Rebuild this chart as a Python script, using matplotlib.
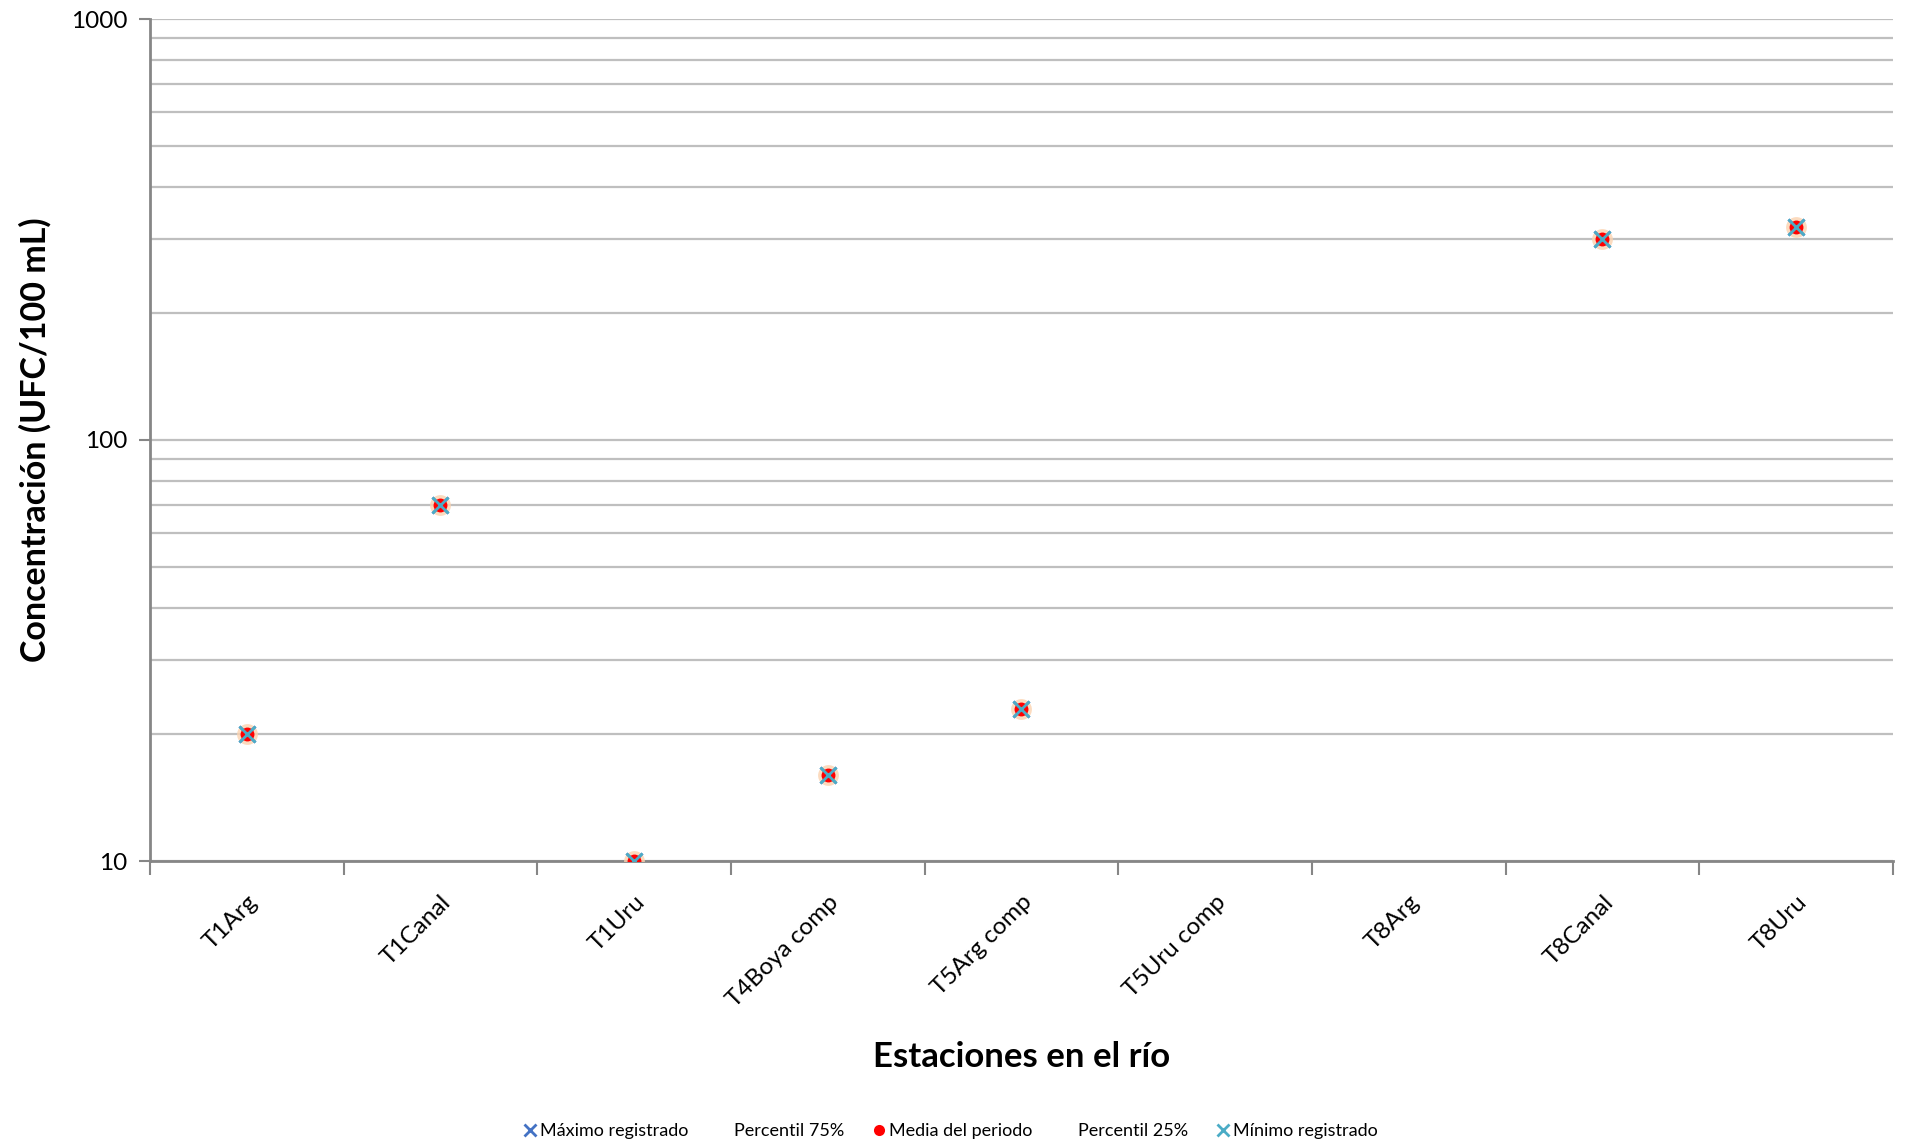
import numpy as np
import matplotlib
matplotlib.use("Agg")
import matplotlib.pyplot as plt
from matplotlib.ticker import LogLocator, NullFormatter, FixedLocator

plt.rcParams['font.family'] = ['Lato', 'DejaVu Sans']

categories = ["T1Arg", "T1Canal", "T1Uru", "T4Boya comp", "T5Arg comp",
              "T5Uru comp", "T8Arg", "T8Canal", "T8Uru"]
nan = np.nan
maximo = [20, 70, 10, 16, 23, nan, nan, 300, 320]
p75 = [20, 70, 10, 16, 23, nan, nan, 300, 320]
media = [20, 70, 10, 16, 23, nan, nan, 300, 320]
p25 = [20, 70, 10, 16, 23, nan, nan, 300, 320]
minimo = [20, 70, 10, 16, 23, nan, nan, 300, 320]

W, H = 1906, 1145
fig = plt.figure(figsize=(W/100, H/100), dpi=100)
ax = fig.add_axes([150/W, 1-861/H, (1893-150)/W, (861-19)/H])

x = np.arange(len(categories))
grid_c = '#bfbfbf'
axis_c = '#868686'

# soft glow under mean marker
ax.plot(x, media, linestyle='none', marker='o', markersize=15,
        color='#fbd3b0', alpha=0.8, mew=0, zorder=3)
ax.plot(x, maximo, linestyle='none', marker='x', markersize=11, mew=2,
        color='#4472C4', zorder=4, label='Máximo registrado')
ax.plot(x, p75, linestyle='none', marker='none', label='Percentil 75%')
ax.plot(x, media, linestyle='none', marker='o', markersize=10, mew=0,
        color='#ff0000', zorder=5, label='Media del periodo')
ax.plot(x, p25, linestyle='none', marker='none', label='Percentil 25%')
ax.plot(x, minimo, linestyle='none', marker='x', markersize=11, mew=2,
        color='#4BACC6', zorder=6, label='Mínimo registrado')

ax.set_yscale('log')
ax.set_ylim(10, 1000)
ax.set_xlim(-0.5, len(categories) - 0.5)

ax.yaxis.set_major_locator(FixedLocator([10, 100, 1000]))
ax.set_yticklabels(['10', '100', '1000'])
ax.yaxis.set_minor_locator(LogLocator(base=10, subs=np.arange(2, 10)))
ax.yaxis.set_minor_formatter(NullFormatter())
ax.grid(True, which='both', axis='y', color=grid_c, linewidth=1.6)
ax.set_axisbelow(True)
ax.tick_params(axis='y', which='major', length=8, width=1.5, color=axis_c,
               labelsize=17.5, pad=8)
ax.tick_params(axis='y', which='minor', length=0)

ax.set_xticks(np.arange(len(categories) + 1) - 0.5)
ax.set_xticklabels([])
ax.set_xticks(x, minor=True)
ax.set_xticklabels(categories, minor=True, rotation=45, ha='right',
                   rotation_mode='anchor', fontsize=17.5)
ax.tick_params(axis='x', which='major', length=10, width=1.5, color=axis_c,
               direction='out')
ax.tick_params(axis='x', which='minor', length=0, pad=22)

for s in ['top', 'right']:
    ax.spines[s].set_visible(False)
for s in ['left', 'bottom']:
    ax.spines[s].set_color(axis_c)
    ax.spines[s].set_linewidth(2)

ax.set_ylabel('Concentración (UFC/100 mL)', fontsize=24.5, fontweight='bold',
              labelpad=14)
fig.text((150+1893)/2/W, 1-1057/H, 'Estaciones en el río', fontsize=25,
         fontweight='bold', ha='center', va='center')

handles, labels = ax.get_legend_handles_labels()
fig.legend(handles, labels, loc='center', ncol=5, frameon=False,
           fontsize=13, bbox_to_anchor=(951/W, 1-1131/H), handlelength=0.7,
           handletextpad=0.2, columnspacing=1.6, markerscale=0.8)

fig.savefig('out.png', dpi=100)
